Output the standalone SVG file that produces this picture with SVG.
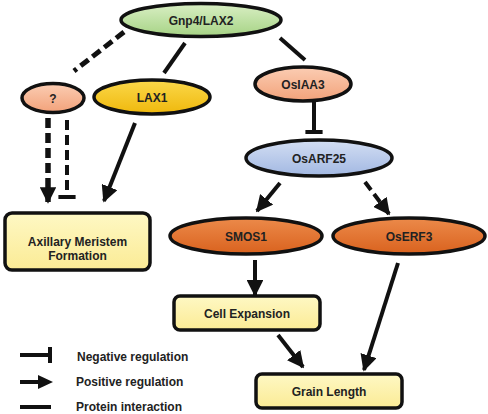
<svg xmlns="http://www.w3.org/2000/svg" width="488" height="414" viewBox="0 0 488 414">
<defs>
<linearGradient id="gGreen" x1="0" y1="0" x2="0" y2="1"><stop offset="0" stop-color="#d9efc4"/><stop offset="1" stop-color="#a6d385"/></linearGradient>
<linearGradient id="gYellow" x1="0" y1="0" x2="0" y2="1"><stop offset="0" stop-color="#fbd84a"/><stop offset="1" stop-color="#efb80c"/></linearGradient>
<linearGradient id="gPeach" x1="0" y1="0" x2="0" y2="1"><stop offset="0" stop-color="#fbcdb3"/><stop offset="1" stop-color="#f2a27a"/></linearGradient>
<linearGradient id="gBlue" x1="0" y1="0" x2="0" y2="1"><stop offset="0" stop-color="#d3def3"/><stop offset="1" stop-color="#a2b8e2"/></linearGradient>
<linearGradient id="gOrange" x1="0" y1="0" x2="0" y2="1"><stop offset="0" stop-color="#ec8a4a"/><stop offset="1" stop-color="#d9621e"/></linearGradient>
<linearGradient id="gBox" x1="0" y1="0" x2="0" y2="1"><stop offset="0" stop-color="#fef8c4"/><stop offset="1" stop-color="#fbeb95"/></linearGradient>
<marker id="arr" viewBox="0 0 10 10" refX="9" refY="5" markerWidth="4.2" markerHeight="4.2" orient="auto" markerUnits="strokeWidth"><path d="M0,0 L10,5 L0,10 z" fill="#111"/></marker>
<marker id="arrS" viewBox="0 0 10 10" refX="9" refY="5" markerWidth="3" markerHeight="3" orient="auto" markerUnits="strokeWidth"><path d="M0,0 L10,5 L0,10 z" fill="#111"/></marker>
<marker id="bar" viewBox="0 0 4 10" refX="2" refY="5" markerWidth="1.1" markerHeight="4.3" preserveAspectRatio="none" orient="auto" markerUnits="strokeWidth"><rect x="0" y="0" width="4" height="10" fill="#111"/></marker>
</defs>
<style>
.node{stroke:#111;stroke-width:3.5}
.box{stroke:#111;stroke-width:3.5}
.lbl{font-family:"Liberation Sans",Arial,sans-serif;font-weight:bold;font-size:12px;fill:#222;text-anchor:middle}
.leg{font-family:"Liberation Sans",Arial,sans-serif;font-weight:bold;font-size:12px;fill:#222}
.c{stroke:#111;stroke-width:4;fill:none}
.d{stroke-dasharray:10,5}
</style>
<rect width="488" height="414" fill="#fff"/>
<g id="connectors">
<line class="c d" x1="124" y1="32" x2="74" y2="71" style="stroke-width:5"/>
<line class="c" x1="185" y1="43" x2="164" y2="73"/>
<line class="c" x1="280" y1="38" x2="305" y2="60"/>
<line class="c" x1="314" y1="102" x2="314" y2="132" marker-end="url(#bar)"/>
<line class="c" x1="280" y1="183" x2="257" y2="211" marker-end="url(#arr)"/>
<line class="c d" x1="365" y1="182" x2="389" y2="214" marker-end="url(#arr)"/>
<line class="c d" x1="48" y1="118" x2="48" y2="202" style="stroke-width:5.5" marker-end="url(#arrS)"/>
<line class="c d" x1="67" y1="120" x2="67" y2="197" marker-end="url(#bar)"/>
<line class="c" x1="135" y1="123" x2="104" y2="201" marker-end="url(#arr)"/>
<line class="c" x1="255" y1="260" x2="255" y2="295" marker-end="url(#arr)"/>
<line class="c" x1="278" y1="335" x2="303" y2="367" marker-end="url(#arr)"/>
<line class="c" x1="398" y1="263" x2="364" y2="370" marker-end="url(#arr)"/>
</g>
<g id="gnp4"><ellipse class="node" cx="201" cy="20" rx="80" ry="16.5" fill="url(#gGreen)"/><text class="lbl" x="201" y="24.5">Gnp4/LAX2</text></g>
<g id="unknown"><ellipse class="node" cx="53" cy="98" rx="31" ry="14.5" fill="url(#gPeach)"/><text class="lbl" x="53" y="102.5">?</text></g>
<g id="lax1"><ellipse class="node" cx="152" cy="97" rx="58" ry="17" fill="url(#gYellow)"/><text class="lbl" x="152" y="101.5">LAX1</text></g>
<g id="osiaa3"><ellipse class="node" cx="303" cy="84" rx="48" ry="17" fill="url(#gPeach)"/><text class="lbl" x="303" y="88.5">OsIAA3</text></g>
<g id="osarf25"><ellipse class="node" cx="319" cy="158" rx="73" ry="18" fill="url(#gBlue)"/><text class="lbl" x="319" y="162.5">OsARF25</text></g>
<g id="smos1"><ellipse class="node" cx="246" cy="236" rx="76" ry="18" fill="url(#gOrange)"/><text class="lbl" x="246" y="240.5">SMOS1</text></g>
<g id="oserf3"><ellipse class="node" cx="409" cy="236" rx="76" ry="18" fill="url(#gOrange)"/><text class="lbl" x="409" y="240.5">OsERF3</text></g>
<g id="amf"><rect class="box" x="5" y="213" width="145" height="57" rx="7" fill="url(#gBox)"/><text class="lbl" x="77.5" y="246">Axillary Meristem</text><text class="lbl" x="77.5" y="260">Formation</text></g>
<g id="cellexp"><rect class="box" x="174" y="296" width="146" height="34" rx="6" fill="url(#gBox)"/><text class="lbl" x="247" y="317.5">Cell Expansion</text></g>
<g id="grain"><rect class="box" x="256" y="374" width="146" height="34" rx="6" fill="url(#gBox)"/><text class="lbl" x="329" y="395.5">Grain Length</text></g>
<g id="legend">
<line class="c" x1="20" y1="355" x2="49" y2="355"/>
<rect x="48" y="347" width="4" height="16" fill="#111"/>
<text class="leg" x="77" y="361">Negative regulation</text>
<line class="c" x1="20" y1="382" x2="40" y2="382"/>
<path d="M38,375 L53,382 L38,389 z" fill="#111"/>
<text class="leg" x="76" y="386">Positive regulation</text>
<line class="c" x1="20" y1="407" x2="51" y2="407"/>
<text class="leg" x="76" y="411">Protein interaction</text>
</g>
</svg>
